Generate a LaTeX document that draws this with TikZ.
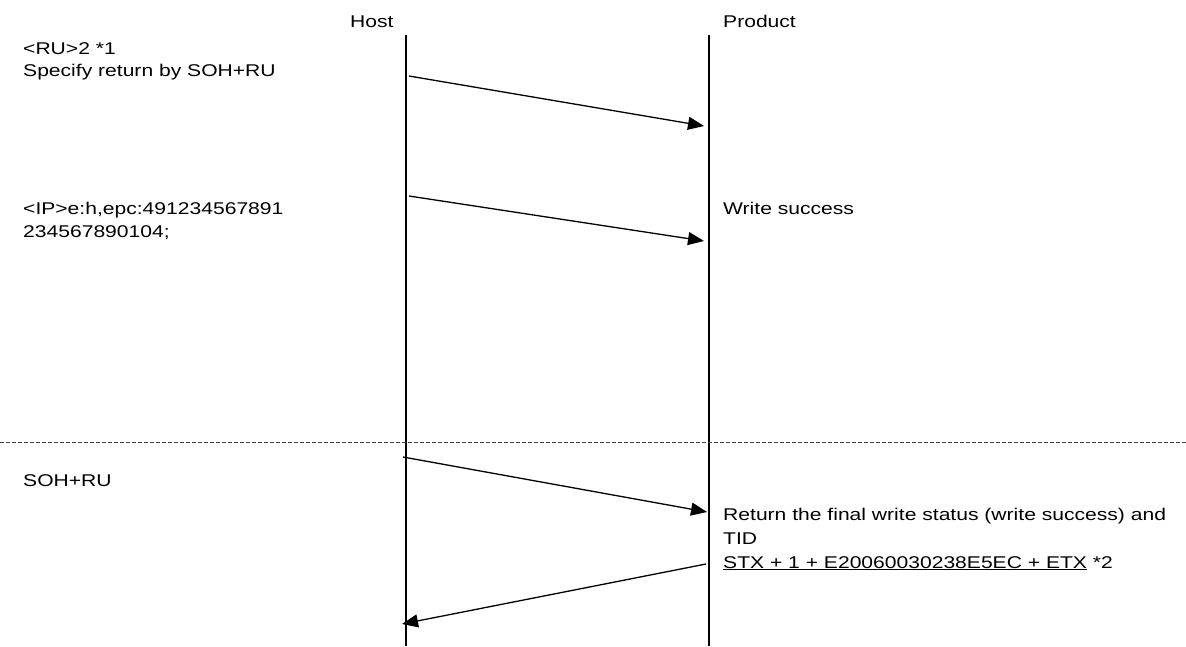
\documentclass[tikz,border=0pt]{standalone}
\usepackage{fontspec}
\setmainfont{Liberation Sans}[FakeStretch=1.24]
\usetikzlibrary{arrows.meta}
\begin{document}
\begin{tikzpicture}[x=1pt,y=-1pt,
  txt/.style={anchor=base west,inner sep=0pt,font=\fontsize{17}{23}\selectfont},
  lifeline/.style={line width=1.6pt},
  msg/.style={line width=1.3pt,-{Triangle[length=16pt,width=13pt]}},
  sep/.style={line width=0.9pt,dash pattern=on 4pt off 2pt,black!75}]
\useasboundingbox[fill=white] (0,0) rectangle (1186,646);
% headers
\node[txt] (host) at (350,27) {Host};
\node[txt] (prod) at (723,27) {Product};
% lifelines
\coordinate (htop) at (406,35);
\coordinate (hbot) at (406,646);
\coordinate (ptop) at (709,35);
\coordinate (pbot) at (709,646);
\draw[lifeline] (htop) -- (hbot);
\draw[lifeline] (ptop) -- (pbot);
% separator
\coordinate (sl) at (0,442);
\coordinate (sr) at (1186,442);
\draw[sep] (sl) -- (sr);
% left texts
\node[txt] (t1a) at (23,54) {<RU>2 *1};
\node[txt] (t1b) at (23,76) {Specify return by SOH+RU};
\node[txt] (t2a) at (23,214) {<IP>e:h,epc:491234567891};
\node[txt] (t2b) at (23,237) {234567890104;};
\node[txt] (t3) at (23,486) {SOH+RU};
% right texts
\node[txt] (r1) at (723,214) {Write success};
\node[txt] (r2a) at (723,520) {Return the final write status (write success) and};
\node[txt] (r2b) at (723,544) {TID};
\node[txt] (r2c) at (723,568) {\underline{STX + 1 + E20060030238E5EC + ETX} *2};
% messages
\coordinate (a1s) at (409,76);  \coordinate (a1e) at (704,126);
\coordinate (a2s) at (409,196); \coordinate (a2e) at (704,241);
\coordinate (a3s) at (403,457); \coordinate (a3e) at (707,512);
\coordinate (a4s) at (706,564); \coordinate (a4e) at (402,624);
\draw[msg] (a1s) -- (a1e);
\draw[msg] (a2s) -- (a2e);
\draw[msg] (a3s) -- (a3e);
\draw[msg] (a4s) -- (a4e);
\end{tikzpicture}
\end{document}
